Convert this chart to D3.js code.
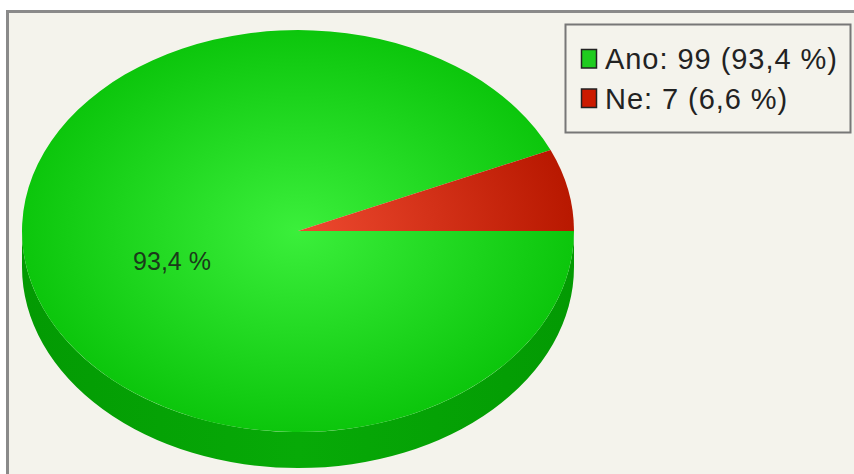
<!DOCTYPE html>
<html><head><meta charset="utf-8">
<script src="https://cdn.jsdelivr.net/npm/d3@7"></script>
<style>html,body{margin:0;padding:0;background:#fff;}svg{display:block;}</style>
</head><body>
<svg id="c" width="854" height="474"></svg>
<script>
const categories = ["Ano", "Ne"];
const values = [99, 7];
const percentLabels = ["93,4 %", "6,6 %"];
const colors = ["#22dd22", "#cc2200"];

const svg = d3.select("#c");
// frame
svg.append("rect").attr("x", 7.5).attr("y", 11.5).attr("width", 860).attr("height", 480)
  .attr("fill", "#f4f3ec").attr("stroke", "#8a8a8a").attr("stroke-width", 3);

const defs = svg.append("defs");
function radial(id, c0, c1) {
  const g = defs.append("radialGradient").attr("id", id).attr("gradientUnits", "userSpaceOnUse")
    .attr("cx", 0).attr("cy", 0).attr("r", 1).attr("fx", 0).attr("fy", 0);
  g.append("stop").attr("offset", "0%").attr("stop-color", c0);
  g.append("stop").attr("offset", "100%").attr("stop-color", c1);
}
radial("gGreen", "#3bef3b", "#0cc60c");
radial("gRed", "#ee4a30", "#b81800");
const sg = defs.append("linearGradient").attr("id", "gSide").attr("gradientUnits", "userSpaceOnUse")
  .attr("x1", -1).attr("y1", 0).attr("x2", 1).attr("y2", 0);
sg.append("stop").attr("offset", "0%").attr("stop-color", "#039a03");
sg.append("stop").attr("offset", "50%").attr("stop-color", "#07aa07");
sg.append("stop").attr("offset", "100%").attr("stop-color", "#039a03");

const cx = 298, cy = 231, rx = 276, ry = 201, depth = 36;
const dd = depth / ry;

const pie = d3.pie().sort(null).value(d => d)
  .startAngle(Math.PI / 2).endAngle(Math.PI / 2 + 2 * Math.PI);
const arcs = pie(values);
const arc = d3.arc().innerRadius(0).outerRadius(1);

const g = svg.append("g").attr("transform", `translate(${cx},${cy}) scale(${rx},${ry})`);
// side (front half)
g.append("path")
  .attr("d", `M-1,0 A1,1 0 0 0 1,0 L1,${dd} A1,1 0 0 1 -1,${dd} Z`)
  .attr("fill", "url(#gSide)");
g.selectAll("path.slice").data(arcs).enter().append("path")
  .attr("class", "slice")
  .attr("d", arc)
  .attr("fill", (d, i) => i === 0 ? "url(#gGreen)" : "url(#gRed)");

// label for the large slice
const a0 = arcs[0];
const mid = (a0.startAngle + a0.endAngle) / 2;
const k = 0.4665;
svg.append("text")
  .attr("x", cx + k * rx * Math.sin(mid))
  .attr("y", cy - k * ry * Math.cos(mid) + 20)
  .attr("text-anchor", "middle")
  .attr("font-family", "Liberation Sans, Arial, sans-serif")
  .attr("font-size", 25)
  .attr("fill", "#1a3a1a")
  .text(percentLabels[0]);

// legend
const lg = svg.append("g");
lg.append("rect").attr("x", 565.5).attr("y", 24.5).attr("width", 285).attr("height", 108)
  .attr("fill", "#f4f3ec").attr("stroke", "#777").attr("stroke-width", 2);
categories.forEach((c, i) => {
  const y = 49.5 + i * 39.5;
  lg.append("rect").attr("x", 581.5).attr("y", y).attr("width", 15).attr("height", 18.5)
    .attr("fill", i === 0 ? "#1fcc1f" : "#cc1a00").attr("stroke", "#222").attr("stroke-width", 1.5);
  lg.append("text").attr("x", 605).attr("y", y + 19.5)
    .attr("font-family", "Liberation Sans, Arial, sans-serif")
    .attr("font-size", 29).attr("letter-spacing", 0.95)
    .attr("fill", "#222")
    .text(`${c}: ${values[i]} (${percentLabels[i]})`);
});
</script>
</body></html>
